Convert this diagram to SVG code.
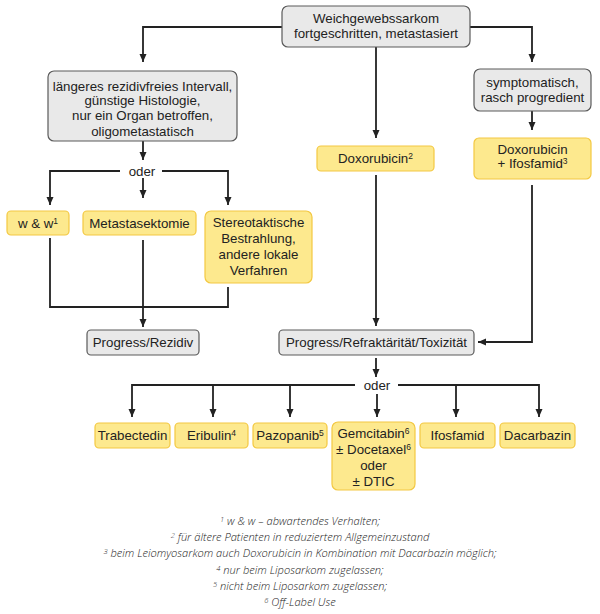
<svg xmlns="http://www.w3.org/2000/svg" width="600" height="614" viewBox="0 0 600 614">
<defs>
<marker id="ah" viewBox="0 0 8 8" refX="8" refY="4" markerWidth="8" markerHeight="8" markerUnits="userSpaceOnUse" orient="auto">
<path d="M0,0.5 L8,4 L0,7.5 Z" fill="#222"/>
</marker>
<style>
.g{fill:#e9e9e9;stroke:#5a5a5a;stroke-width:1.2}
.y{fill:#fde98e;stroke:#f3c842;stroke-width:1.2}
.t{font-family:"Liberation Sans",Arial,sans-serif;font-size:13.3px;fill:#222;text-anchor:middle}
.c{fill:none;stroke:#222;stroke-width:1.8}
.a{marker-end:url(#ah)}
.f{font-family:"Open Sans","Liberation Sans",sans-serif;font-style:italic;font-weight:300;font-size:11.1px;fill:#222;text-anchor:middle}
.s{font-size:8.5px}
.fs{font-size:7.5px}
</style>
</defs>
<rect width="600" height="614" fill="#fff"/>
<g id="connectors">
<path class="c a" d="M282,27 H143 V62"/>
<path class="c a" d="M376,47 V138"/>
<path class="c a" d="M470,27 H532 V62"/>
<path class="c a" d="M143,141 V160"/>
<path class="c a" d="M120,171 H50 V205"/>
<path class="c a" d="M162,171 H228 V205"/>
<path class="c a" d="M143,178 V198"/>
<path class="c" d="M50,238 V307 H228 V287"/>
<path class="c a" d="M143,240 V327"/>
<path class="c a" d="M376,175 V326"/>
<path class="c a" d="M532,111 V130"/>
<path class="c a" d="M532,185 V342 H478"/>
<path class="c a" d="M376,358 V377"/>
<path class="c a" d="M355,385 H132 V417"/>
<path class="c a" d="M398,385 H539 V417"/>
<path class="c a" d="M213,385 V417"/>
<path class="c a" d="M290,385 V417"/>
<path class="c a" d="M456,385 V417"/>
<path class="c a" d="M377,394 V417"/>
</g>
<g id="oder1"><text class="t" x="142" y="175.5">oder</text></g>
<g id="oder2"><text class="t" x="377" y="389.5">oder</text></g>
<g id="top">
<rect class="g" x="282" y="6" width="188" height="41" rx="6"/>
<text class="t" x="376" y="22.5">Weichgewebssarkom</text>
<text class="t" x="376" y="37.5">fortgeschritten, metastasiert</text>
</g>
<g id="left">
<rect class="g" x="48" y="71" width="189" height="70" rx="6"/>
<text class="t" x="142.5" y="90.5">längeres rezidivfreies Intervall,</text>
<text class="t" x="142.5" y="105">günstige Histologie,</text>
<text class="t" x="142.5" y="120">nur ein Organ betroffen,</text>
<text class="t" x="142.5" y="135.5">oligometastatisch</text>
</g>
<g id="symptom">
<rect class="g" x="474" y="69" width="117" height="42" rx="6"/>
<text class="t" x="532.5" y="86.5">symptomatisch,</text>
<text class="t" x="532.5" y="101.5">rasch progredient</text>
</g>
<g id="doxo">
<rect class="y" x="317" y="146" width="117" height="25" rx="4"/>
<text class="t" x="375.5" y="163">Doxorubicin<tspan class="s" baseline-shift="4">2</tspan></text>
</g>
<g id="doxoifos">
<rect class="y" x="474" y="138" width="117" height="41" rx="5"/>
<text class="t" x="532.5" y="153.5">Doxorubicin</text>
<text class="t" x="532.5" y="168">+ Ifosfamid<tspan class="s" baseline-shift="4">3</tspan></text>
</g>
<g id="ww">
<rect class="y" x="7" y="211" width="62" height="24" rx="4"/>
<text class="t" x="38" y="227.5">w &amp; w<tspan class="s" baseline-shift="4">1</tspan></text>
</g>
<g id="metast">
<rect class="y" x="83" y="211" width="113" height="24" rx="4"/>
<text class="t" x="139.5" y="227.5">Metastasektomie</text>
</g>
<g id="stereo">
<rect class="y" x="205" y="211" width="107" height="72" rx="6"/>
<text class="t" x="258.5" y="227">Stereotaktische</text>
<text class="t" x="258.5" y="243">Bestrahlung,</text>
<text class="t" x="258.5" y="259">andere lokale</text>
<text class="t" x="258.5" y="275">Verfahren</text>
</g>
<g id="progrez">
<rect class="g" x="87" y="330" width="112" height="25" rx="4"/>
<text class="t" x="143" y="347">Progress/Rezidiv</text>
</g>
<g id="progref">
<rect class="g" x="279" y="330" width="195" height="25" rx="4"/>
<text class="t" x="376.5" y="347">Progress/Refraktärität/Toxizität</text>
</g>
<g id="trab">
<rect class="y" x="95" y="423" width="75" height="25" rx="4"/>
<text class="t" x="132.5" y="440">Trabectedin</text>
</g>
<g id="erib">
<rect class="y" x="175" y="423" width="73" height="25" rx="4"/>
<text class="t" x="211.5" y="440">Eribulin<tspan class="s" baseline-shift="4">4</tspan></text>
</g>
<g id="pazo">
<rect class="y" x="253" y="423" width="74" height="25" rx="4"/>
<text class="t" x="290" y="440">Pazopanib<tspan class="s" baseline-shift="4">5</tspan></text>
</g>
<g id="gemc">
<rect class="y" x="332" y="422" width="83" height="68" rx="6"/>
<text class="t" x="373.5" y="438">Gemcitabin<tspan class="s" baseline-shift="4">6</tspan></text>
<text class="t" x="373.5" y="454">± Docetaxel<tspan class="s" baseline-shift="4">6</tspan></text>
<text class="t" x="373.5" y="470">oder</text>
<text class="t" x="373.5" y="486">± DTIC</text>
</g>
<g id="ifos">
<rect class="y" x="420" y="423" width="75" height="25" rx="4"/>
<text class="t" x="457.5" y="440">Ifosfamid</text>
</g>
<g id="dacar">
<rect class="y" x="500" y="423" width="75" height="25" rx="4"/>
<text class="t" x="537.5" y="440">Dacarbazin</text>
</g>
<g id="footnotes">
<text class="f" x="300" y="525"><tspan class="fs" baseline-shift="3">1</tspan> w &amp; w – abwartendes Verhalten;</text>
<text class="f" x="300" y="541"><tspan class="fs" baseline-shift="3">2</tspan> für ältere Patienten in reduziertem Allgemeinzustand</text>
<text class="f" x="300" y="557"><tspan class="fs" baseline-shift="3">3</tspan> beim Leiomyosarkom auch Doxorubicin in Kombination mit Dacarbazin möglich;</text>
<text class="f" x="300" y="574"><tspan class="fs" baseline-shift="3">4</tspan> nur beim Liposarkom zugelassen;</text>
<text class="f" x="300" y="590"><tspan class="fs" baseline-shift="3">5</tspan> nicht beim Liposarkom zugelassen;</text>
<text class="f" x="300" y="606"><tspan class="fs" baseline-shift="3">6</tspan> Off-Label Use</text>
</g>
</svg>
